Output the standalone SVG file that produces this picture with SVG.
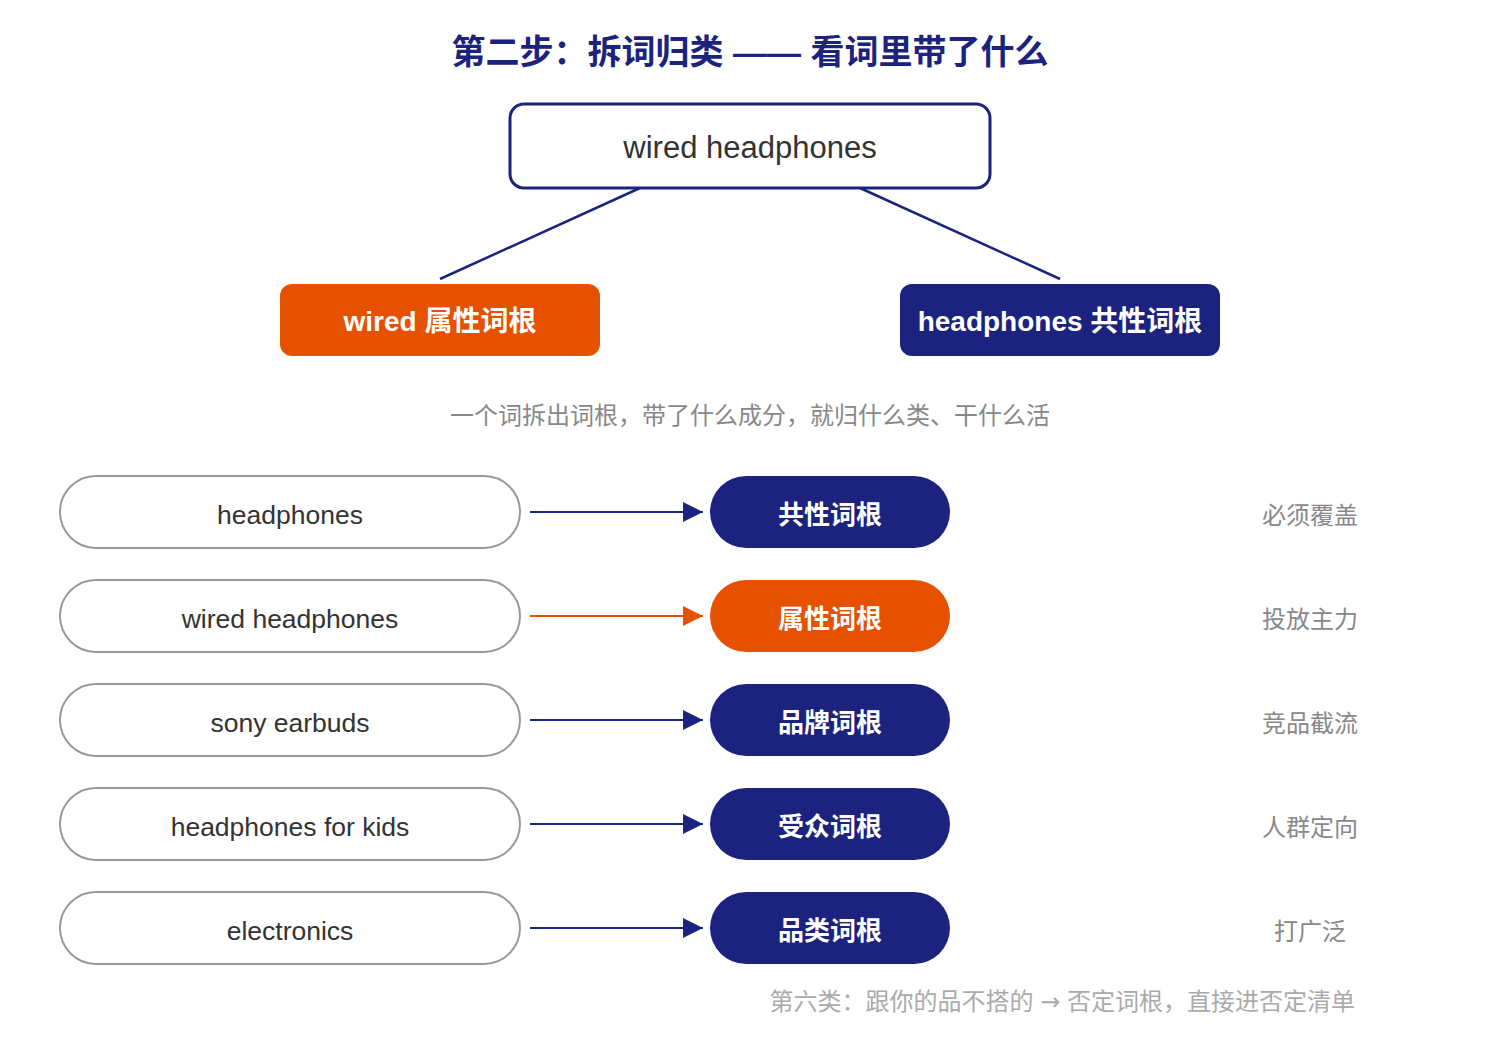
<svg xmlns="http://www.w3.org/2000/svg" width="1500" height="1040" viewBox="0 0 1500 1040">
<style>
text{font-family:"Liberation Sans","Noto Sans CJK SC",sans-serif;text-anchor:middle}
.title{font-size:34px;font-weight:bold;fill:#1b237e}
.top{font-size:31px;fill:#333}
.tag{font-size:28px;font-weight:bold;fill:#fff}
.cap{font-size:24px;fill:#888}
.kw{font-size:26.5px;fill:#333}
.cat{font-size:26px;font-weight:bold;fill:#fff}
.note{font-size:24px;fill:#888}
.foot{font-size:24px;fill:#aaa;text-anchor:end}
.arr{font-family:"DejaVu Sans",sans-serif}
.pill{fill:#fff;stroke:#999;stroke-width:2}
.navy{fill:#1b237e}
.orange{fill:#e65100}
</style>
<defs>
<marker id="an" viewBox="0 0 10 10" refX="10" refY="5" markerWidth="20" markerHeight="20" markerUnits="userSpaceOnUse" orient="auto"><path d="M0,0L10,5L0,10z" fill="#1b237e"/></marker>
<marker id="ao" viewBox="0 0 10 10" refX="10" refY="5" markerWidth="20" markerHeight="20" markerUnits="userSpaceOnUse" orient="auto"><path d="M0,0L10,5L0,10z" fill="#e65100"/></marker>
</defs>
<text class="title" x="750" y="64">第二步：拆词归类 —— 看词里带了什么</text>
<g id="connectors" fill="none" stroke-width="2.5">
<line x1="640" y1="188" x2="440" y2="279" stroke="#1b237e"/>
<line x1="860" y1="188" x2="1060" y2="279" stroke="#1b237e"/>
<line x1="530" y1="512" x2="703" y2="512" stroke="#1b237e" stroke-width="2" marker-end="url(#an)"/>
<line x1="530" y1="616" x2="703" y2="616" stroke="#e65100" stroke-width="2" marker-end="url(#ao)"/>
<line x1="530" y1="720" x2="703" y2="720" stroke="#1b237e" stroke-width="2" marker-end="url(#an)"/>
<line x1="530" y1="824" x2="703" y2="824" stroke="#1b237e" stroke-width="2" marker-end="url(#an)"/>
<line x1="530" y1="928" x2="703" y2="928" stroke="#1b237e" stroke-width="2" marker-end="url(#an)"/>
</g>
<g id="root"><rect x="510" y="104" width="480" height="84" rx="14" fill="#fff" stroke="#1b237e" stroke-width="3"/><text class="top" x="750" y="158">wired headphones</text></g>
<g id="attr-root"><rect class="orange" x="280" y="284" width="320" height="72" rx="12"/><text class="tag" x="440" y="331">wired 属性词根</text></g>
<g id="common-root"><rect class="navy" x="900" y="284" width="320" height="72" rx="12"/><text class="tag" x="1060" y="331">headphones 共性词根</text></g>
<text class="cap" x="750" y="424">一个词拆出词根，带了什么成分，就归什么类、干什么活</text>
<g id="kw1"><rect class="pill" x="60" y="476" width="460" height="72" rx="36"/><text class="kw" x="290" y="524">headphones</text></g>
<g id="kw2"><rect class="pill" x="60" y="580" width="460" height="72" rx="36"/><text class="kw" x="290" y="628">wired headphones</text></g>
<g id="kw3"><rect class="pill" x="60" y="684" width="460" height="72" rx="36"/><text class="kw" x="290" y="732">sony earbuds</text></g>
<g id="kw4"><rect class="pill" x="60" y="788" width="460" height="72" rx="36"/><text class="kw" x="290" y="836">headphones for kids</text></g>
<g id="kw5"><rect class="pill" x="60" y="892" width="460" height="72" rx="36"/><text class="kw" x="290" y="940">electronics</text></g>
<g id="cat1"><rect class="navy" x="710" y="476" width="240" height="72" rx="36"/><text class="cat" x="830" y="524">共性词根</text></g>
<g id="cat2"><rect class="orange" x="710" y="580" width="240" height="72" rx="36"/><text class="cat" x="830" y="628">属性词根</text></g>
<g id="cat3"><rect class="navy" x="710" y="684" width="240" height="72" rx="36"/><text class="cat" x="830" y="732">品牌词根</text></g>
<g id="cat4"><rect class="navy" x="710" y="788" width="240" height="72" rx="36"/><text class="cat" x="830" y="836">受众词根</text></g>
<g id="cat5"><rect class="navy" x="710" y="892" width="240" height="72" rx="36"/><text class="cat" x="830" y="940">品类词根</text></g>
<text class="note" x="1310" y="524">必须覆盖</text>
<text class="note" x="1310" y="628">投放主力</text>
<text class="note" x="1310" y="732">竞品截流</text>
<text class="note" x="1310" y="836">人群定向</text>
<text class="note" x="1310" y="940">打广泛</text>
<text class="foot" x="1355" y="1010">第六类：跟你的品不搭的 <tspan class="arr">→</tspan> 否定词根，直接进否定清单</text>
</svg>
